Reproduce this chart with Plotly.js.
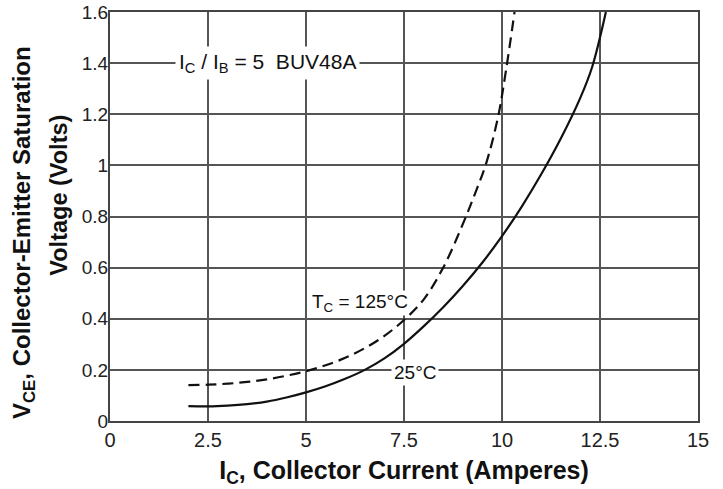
<!DOCTYPE html>
<html><head><meta charset="utf-8">
<script src="https://cdn.plot.ly/plotly-3.0.1.min.js"></script>
<style>html,body{margin:0;padding:0;background:#fff;}#chart{width:723px;height:489px;}</style>
</head><body><div id="chart"></div>
<script>
// 25°C curve (solid)
const ic25 = [2, 2.5, 3, 3.5, 4, 4.5, 5, 5.5, 6, 6.5, 7, 7.5, 8, 8.5, 9, 9.5, 10, 10.5, 11, 11.5, 12, 12.3, 12.65];
const vce25 = [0.058, 0.057, 0.06, 0.066, 0.076, 0.092, 0.112, 0.136, 0.165, 0.2, 0.245, 0.302, 0.37, 0.445, 0.528, 0.62, 0.723, 0.838, 0.965, 1.105, 1.265, 1.385, 1.6];
// 125°C curve (dashed)
const ic125 = [2, 2.5, 3, 3.5, 4, 4.5, 5, 5.5, 6, 6.5, 7, 7.5, 8, 8.5, 9, 9.3, 9.6, 9.9, 10.1, 10.32];
const vce125 = [0.14, 0.142, 0.146, 0.153, 0.163, 0.177, 0.195, 0.218, 0.247, 0.285, 0.333, 0.395, 0.475, 0.6, 0.77, 0.885, 1.01, 1.19, 1.37, 1.6];
const xTicks = [0, 2.5, 5, 7.5, 10, 12.5, 15];
const yTicks = [0, 0.2, 0.4, 0.6, 0.8, 1, 1.2, 1.4, 1.6];
const yTitle1 = '<b>V<sub>CE</sub>, Collector-Emitter Saturation</b>';
const yTitle2 = '<b>Voltage (Volts)</b>';
const xTitle = '<b>I<sub>C</sub>, Collector Current (Amperes)</b>';

const traces = [
  {x: ic125, y: vce125, mode: 'lines', line: {color: '#111', width: 2.2, dash: '11px,6px', shape: 'spline'}, hoverinfo: 'skip'},
  {x: ic25, y: vce25, mode: 'lines', line: {color: '#111', width: 2.2, shape: 'spline'}, hoverinfo: 'skip'}
];
const font = {family: 'Liberation Sans, Arial, sans-serif', color: '#111'};
const layout = {
  width: 723, height: 489,
  margin: {l: 110, r: 25, t: 12, b: 68},
  paper_bgcolor: '#fff', plot_bgcolor: '#fff',
  showlegend: false,
  font: font,
  xaxis: {
    range: [0, 15], tickvals: xTicks, ticktext: xTicks.map(String),
    showgrid: true, gridcolor: '#555', gridwidth: 2, zeroline: false,
    showline: true, linecolor: '#444', linewidth: 2, mirror: true,
    ticks: '', tickfont: {size: 20, color: '#222'},
    title: {text: xTitle, font: {size: 25, color: '#111'}, standoff: 11}
  },
  yaxis: {
    range: [0, 1.6], tickvals: yTicks, ticktext: yTicks.map(String),
    showgrid: true, gridcolor: '#555', gridwidth: 2, zeroline: false,
    showline: true, linecolor: '#444', linewidth: 2, mirror: true,
    ticks: '', ticklabelstandoff: -4, tickfont: {size: 19, color: '#222'}
  },
  annotations: [
    {x: -0.146, y: 0.46, xref: 'paper', yref: 'paper', xanchor: 'center', yanchor: 'middle', text: yTitle1, textangle: -90, showarrow: false, font: {size: 24, color: '#111'}},
    {x: -0.087, y: 0.553, xref: 'paper', yref: 'paper', xanchor: 'center', yanchor: 'middle', text: yTitle2, textangle: -90, showarrow: false, font: {size: 23.5, color: '#111'}},
    {x: 4.01, y: 1.4, xref: 'x', yref: 'y', text: 'I<sub>C</sub> / I<sub>B</sub> = 5  BUV48A', showarrow: false, font: {size: 21, color: '#111'}, bgcolor: '#fff', borderpad: 3},
    {x: 6.39, y: 0.46, xref: 'x', yref: 'y', text: 'T<sub>C</sub> = 125°C', showarrow: false, font: {size: 19, color: '#111'}, bgcolor: '#fff', borderpad: 0},
    {x: 7.77, y: 0.19, xref: 'x', yref: 'y', text: '25°C', showarrow: false, font: {size: 19, color: '#111'}, bgcolor: '#fff', borderpad: 2}
  ]
};
Plotly.newPlot('chart', traces, layout, {staticPlot: true, displayModeBar: false});
</script>
</body></html>
